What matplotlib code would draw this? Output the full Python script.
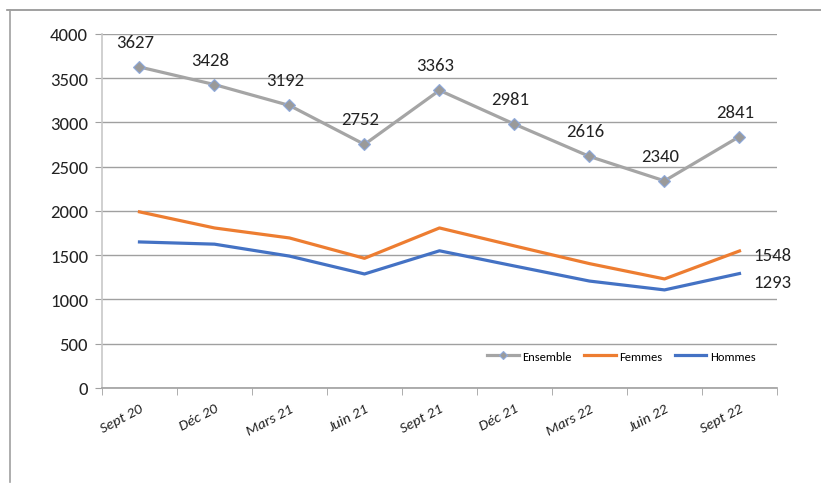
import matplotlib
matplotlib.use("Agg")
import matplotlib.pyplot as plt
from matplotlib.lines import Line2D

categories = ["Sept 20", "Déc 20", "Mars 21", "Juin 21", "Sept 21", "Déc 21", "Mars 22", "Juin 22", "Sept 22"]
ensemble = [3627, 3428, 3192, 2752, 3363, 2981, 2616, 2340, 2841]
femmes = [1990, 1808, 1695, 1465, 1808, 1605, 1405, 1232, 1548]
hommes = [1650, 1625, 1490, 1288, 1550, 1378, 1208, 1108, 1293]
yticks = [0, 500, 1000, 1500, 2000, 2500, 3000, 3500, 4000]

FONT = ["Carlito", "DejaVu Sans"]
plt.rcParams["font.family"] = FONT

fig = plt.figure(figsize=(8.21, 4.85), dpi=100)
ax = fig.add_axes([0.1242, 0.198, 0.8222, 0.7299])

x = list(range(len(categories)))
ax.plot(x, ensemble, color="#a5a5a5", lw=2.3, marker="D", ms=6.5,
        mfc="#9a9a9a", mec="#8faadc", mew=0.8, label="Ensemble", zorder=3)
ax.plot(x, femmes, color="#ed7d31", lw=2.3, label="Femmes", zorder=3)
ax.plot(x, hommes, color="#4472c4", lw=2.3, label="Hommes", zorder=3)

for xi, v in zip(x, ensemble):
    ax.annotate(str(v), (xi, v), xytext=(-3, 18), textcoords="offset points",
                ha="center", va="center", fontsize=13.5, color="#222222")
ax.annotate(str(femmes[-1]), (x[-1], femmes[-1]), xytext=(10, -3), textcoords="offset points",
            ha="left", va="center", fontsize=13.5, color="#222222")
ax.annotate(str(hommes[-1]), (x[-1], hommes[-1]), xytext=(10, -6), textcoords="offset points",
            ha="left", va="center", fontsize=13.5, color="#222222")

ax.set_xlim(-0.5, len(categories) - 0.5)
ax.set_ylim(0, 4000)
ax.set_yticks(yticks)
ax.set_yticklabels([str(t) for t in yticks], fontsize=13.5, color="#222222")
ax.set_xticks(x)
ax.set_xticklabels(categories, rotation=28, ha="right", rotation_mode="anchor",
                   fontsize=11, style="italic", color="#222222")
ax.set_xticks([i - 0.5 for i in range(len(categories) + 1)], minor=True)
ax.tick_params(axis="x", which="major", length=0, pad=10)
ax.tick_params(axis="x", which="minor", length=5, color="#a0a0a0")
ax.tick_params(axis="y", length=5, color="#a0a0a0", pad=5)

ax.grid(axis="y", color="#a0a0a0", lw=1)
ax.set_axisbelow(True)
for s in ["top", "right"]:
    ax.spines[s].set_visible(False)
ax.spines["left"].set_color("#c8c8c8")
ax.spines["left"].set_linewidth(1.2)
ax.spines["bottom"].set_color("#a0a0a0")
ax.spines["bottom"].set_linewidth(1.2)

leg = ax.legend(loc="center right", bbox_to_anchor=(0.985, 0.09), ncol=3, frameon=False,
                fontsize=9, handlelength=2.5, columnspacing=1.0, handletextpad=0.3,
                markerscale=0.7)

fig.add_artist(Line2D([7 / 821, 1], [1 - 11 / 485, 1 - 11 / 485], color="#909090", lw=1.2))
fig.add_artist(Line2D([10 / 821, 10 / 821], [1 - 11 / 485, 0.005], color="#a0a0a0", lw=1.2))

fig.savefig("out.png", dpi=100)
